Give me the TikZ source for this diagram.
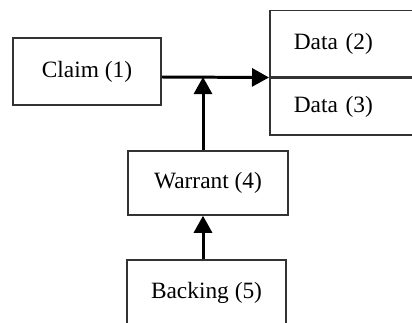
\documentclass[tikz,border=0pt]{standalone}
\usepackage{fontspec}
\setmainfont{Liberation Serif}
\usetikzlibrary{positioning, arrows.meta, calc}

\begin{document}
\begin{tikzpicture}[
    font=\fontsize{13.3}{15}\selectfont,
    box/.style={rectangle, draw=black!80, line width=0.85pt, fill=white},
    databox/.style={box, anchor=north west, text width=2.3cm, inner xsep=0.48cm, align=left},
    link/.style={line width=1.7pt, -{Triangle[length=0.34cm, width=0.36cm]}}
]

% Frame
\useasboundingbox (0, 0) rectangle (8.24, -6.44);
\clip (0, 0) rectangle (8.24, -6.44);

% Claim
\node[box, minimum width=2.96cm, minimum height=1.34cm] (claim) at (1.74, -1.43) {Claim (1)};

% Data
\node[databox, minimum height=1.32cm] (data2) at (5.38, -0.2) {Data (2)};
\node[databox, minimum height=1.14cm] (data3) at (data2.south west) {Data (3)};

% Warrant and backing
\node[box, minimum width=3.2cm, minimum height=1.28cm] (warrant) at (4.16, -3.66) {Warrant (4)};
\node[box, minimum width=3.18cm, minimum height=1.3cm] (backing) at (4.13, -5.85) {Backing (5)};

% Arrows
\coordinate (join) at (4.06, -1.54);
\draw[link] (claim.east |- join) -- (data2.south west);
\draw[link] (warrant.north -| join) -- (join);
\draw[link] (backing.north -| join) -- (warrant.south -| join);

\end{tikzpicture}
\end{document}
